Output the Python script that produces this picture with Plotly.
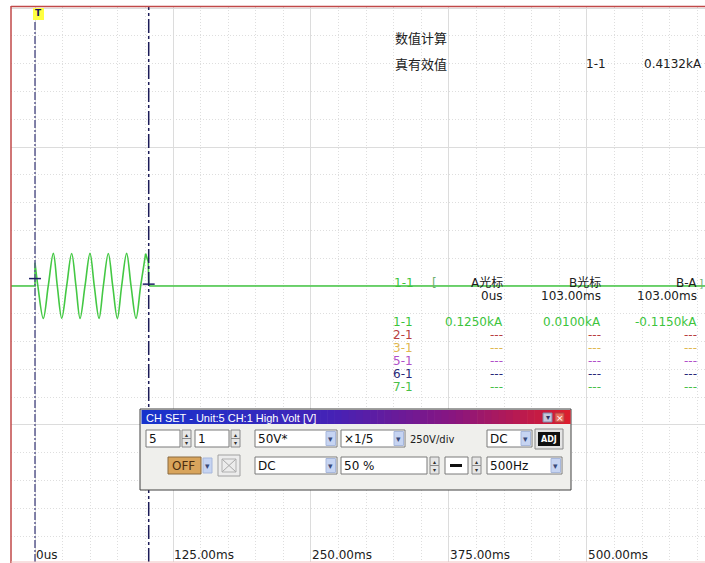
import plotly.graph_objects as go

# ---------------- data ----------------
# time axis (ms) and the labels printed along the bottom of the screen
tick_ms = [0, 125, 250, 375, 500]
tick_labels = ["0us", "125.00ms", "250.00ms", "375.00ms", "500.00ms"]

# channel 1-1: flat line before the trigger (ms, kA)
pre_t = [-21.74, 0.0, 0.0]
pre_v = [0.0, 0.0, 0.125]
# channel 1-1: 60 Hz burst after the trigger (ms, kA)
burst_t = [0.0, 2.6, 7.5, 12.0, 16.6, 20.2, 24.2, 28.7, 33.2, 37.1, 40.8, 45.3,
           49.8, 53.7, 58.0, 61.9, 66.4, 70.4, 74.6, 78.5, 83.0, 87.0, 91.5,
           95.7, 100.2]
burst_v = [0.125, 0.0, -0.175, 0.0, 0.176, 0.0, -0.174, 0.0, 0.175, 0.0, -0.175,
           0.0, 0.176, 0.0, -0.175, 0.0, 0.175, 0.0, -0.175, 0.0, 0.176, 0.0,
           -0.175, 0.0, 0.174]
# channel 1-1: end of burst and flat line afterwards (ms, kA)
tail_t = [100.2, 102.6, 103.0, 104.0, 606.9]
tail_v = [0.174, 0.13, 0.01, 0.0, 0.0]

# cursors A / B (ms) and the channel 1-1 readings at them (kA)
cursor_ms = [0.0, 103.0]
cursor_kA = [0.125, 0.0100]
rms_kA = 0.4132

# channels listed in the cursor table
channels = ["1-1", "2-1", "3-1", "5-1", "6-1", "7-1"]
channel_colors = ["#3cc43c", "#b84040", "#e0b850", "#b050c8", "#282878", "#48c048"]

# ---------------- geometry helpers ----------------
W, H = 705, 563
ML, MR, MT, MB = 11, 0, 7, 1
PW, PH = W - ML - MR, H - MT - MB
X_RANGE = [-21.74, 606.9]
Y_RANGE = [-1.4895, 1.5056]


def fx(px):
    return (px - ML) / PW


def fy(py):
    return (H - MB - py) / PH


LATIN = "DejaVu Sans, Noto Sans CJK SC"
CJK = "Noto Sans CJK SC"

shapes = []
annotations = []


def rect(x0, y0, x1, y1, fill, line=None, lw=1):
    shapes.append(dict(type="rect", xref="paper", yref="paper",
                       x0=fx(x0), x1=fx(x1), y0=fy(y1), y1=fy(y0),
                       fillcolor=fill,
                       line=dict(color=line if line else fill, width=lw if line else 0),
                       layer="above"))


def hline(x0, x1, y, color, width=1):
    shapes.append(dict(type="line", xref="paper", yref="paper",
                       x0=fx(x0), x1=fx(x1), y0=fy(y), y1=fy(y),
                       line=dict(color=color, width=width), layer="above"))


def seg(x0, y0, x1, y1, color, width=1):
    shapes.append(dict(type="line", xref="paper", yref="paper",
                       x0=fx(x0), x1=fx(x1), y0=fy(y0), y1=fy(y1),
                       line=dict(color=color, width=width), layer="above"))


def text(px, py, s, size=12, color="#202020", anchor="left", family=LATIN, bold=False):
    if bold:
        s = "<b>" + s + "</b>"
    annotations.append(dict(xref="paper", yref="paper", x=fx(px), y=fy(py), text=s,
                            showarrow=False, xanchor=anchor, yanchor="middle",
                            borderpad=0,
                            font=dict(family=family, size=size, color=color)))


# ---------------- traces ----------------
GREEN = "#44c844"
fig = go.Figure()
fig.add_trace(go.Scatter(x=pre_t, y=pre_v, mode="lines",
                         line=dict(color=GREEN, width=1.6), hoverinfo="skip"))
fig.add_trace(go.Scatter(x=burst_t, y=burst_v, mode="lines",
                         line=dict(color=GREEN, width=1.6, shape="spline", smoothing=1),
                         hoverinfo="skip"))
fig.add_trace(go.Scatter(x=tail_t, y=tail_v, mode="lines",
                         line=dict(color=GREEN, width=1.6), hoverinfo="skip"))

# ---------------- cursors ----------------
shapes.append(dict(type="line", xref="x", yref="paper", x0=cursor_ms[0], x1=cursor_ms[0],
                   y0=0, y1=fy(20), line=dict(color="#5c5c90", width=1.5, dash="8px,2px,2px,2px"),
                   layer="above"))
shapes.append(dict(type="line", xref="x", yref="paper", x0=cursor_ms[1], x1=cursor_ms[1],
                   y0=0, y1=1, line=dict(color="#1c1c58", width=1.5, dash="14px,3px,3px,3px"),
                   layer="above"))
# cursor crosshair ticks on the trace
for t, v in zip(cursor_ms, [0.04, cursor_kA[1]]):
    shapes.append(dict(type="line", xref="x", yref="y", x0=t - 5.4, x1=t + 5.4, y0=v, y1=v,
                       line=dict(color="#202068", width=1.5), layer="above"))

# trigger marker
rect(33, 8, 44, 20, "#ffff40")
text(38.5, 13.5, "T", size=9, color="#101060", anchor="center", bold=True)

# frame of the scope screen
seg(11, 6, 11, 563, "#c04848", 1.5)
seg(11, 6.5, 705, 6.5, "#c04848", 1.5)
hline(11, 705, 562, "#f0c0c0", 1)

# ---------------- bottom time labels ----------------
for t, lab in zip(tick_ms, tick_labels):
    annotations.append(dict(xref="x", yref="paper", x=t, y=fy(555), text=lab,
                            showarrow=False, xanchor="left", yanchor="middle",
                            borderpad=0, font=dict(family=LATIN, size=12, color="#202020")))

# ---------------- measurement panel ----------------
text(394, 38, "数值计算", size=13, family=CJK)
text(394, 64, "真有效值", size=13, family=CJK)
text(585, 64, "1-1", size=12)
text(703, 64, f"{rms_kA:.4f}kA", size=12, anchor="right")

# ---------------- cursor table ----------------
COLS = [504, 602, 698]


def fmt_time(ms):
    return "0us" if ms == 0 else f"{ms:.2f}ms"


text(393, 283, channels[0], size=12, color=channel_colors[0])
text(431, 283, "[", size=12, color="#70b070")
text(COLS[0], 283, "A光标", size=12, anchor="right")
text(COLS[1], 283, "B光标", size=12, anchor="right")
text(COLS[2], 283, "B-A", size=12, anchor="right")
text(704, 283, "]", size=11, color="#70b070", anchor="right")
text(COLS[0], 296, fmt_time(cursor_ms[0]), size=12, anchor="right")
text(COLS[1], 296, fmt_time(cursor_ms[1]), size=12, anchor="right")
text(COLS[2], 296, fmt_time(cursor_ms[1] - cursor_ms[0]), size=12, anchor="right")

row_y = [322, 335, 348, 361, 374, 387]
for i, (ch, col) in enumerate(zip(channels, channel_colors)):
    text(392, row_y[i], ch, size=12, color=col)
    if i == 0:
        vals = [cursor_kA[0], cursor_kA[1], cursor_kA[1] - cursor_kA[0]]
        for cx, v in zip(COLS, vals):
            text(cx, row_y[i], f"{v:.4f}kA", size=12, color=col, anchor="right")
    else:
        for cx in COLS:
            text(cx, row_y[i], "---", size=12, color=col, anchor="right")

# ---------------- CH SET dialog ----------------
rect(140, 409, 571, 490, "#efefec", "#404040", 1)
# title bar gradient
stops = [(0.0, (22, 52, 205)), (0.45, (70, 34, 182)), (0.72, (135, 22, 130)), (1.0, (222, 30, 44))]


def grad(f):
    for (a, ca), (b, cb) in zip(stops[:-1], stops[1:]):
        if a <= f <= b:
            k = (f - a) / (b - a)
            return "rgb(%d,%d,%d)" % tuple(int(ca[j] + (cb[j] - ca[j]) * k) for j in range(3))
    return "rgb(%d,%d,%d)" % stops[-1][1]


N = 60
x_start, x_end = 141.5, 570
for i in range(N):
    a = x_start + (x_end - x_start) * i / N
    b = x_start + (x_end - x_start) * (i + 1) / N
    rect(a, 410, b + 0.6, 424, grad((i + 0.5) / N))
text(145, 417.5, "CH SET - Unit:5 CH:1 High Volt [V]", size=11, color="#ffffff",
     family="Liberation Sans")
rect(543, 413, 552, 422, "#c4c8dc", "#8088a8", 1)
text(547.5, 417.5, "▾", size=8, color="#303060", anchor="center")
rect(555, 413, 564, 422, "#e86a5a", "#b04040", 1)
text(559.5, 417.5, "×", size=9, color="#ffffff", anchor="center")


def box(x0, y0, x1, y1, label=None):
    rect(x0, y0, x1, y1, "#ffffff", "#7a7a7a", 1)
    if label:
        text(x0 + 2, (y0 + y1) / 2 + 0.5, label, size=12, color="#101010")


def arrow_btn(x0, y0, x1, y1):
    rect(x0, y0, x1, y1, "#c6d4f2", "#a8b8dc", 1)
    text((x0 + x1) / 2, (y0 + y1) / 2, "▾", size=9, color="#3a4a78", anchor="center")


def spinner(x0, y0, x1, y1):
    mid = (y0 + y1) / 2
    rect(x0, y0, x1, mid, "#e6e6e6", "#8a8a8a", 1)
    rect(x0, mid, x1, y1, "#e6e6e6", "#8a8a8a", 1)
    text((x0 + x1) / 2, (y0 + mid) / 2, "▴", size=6, color="#303030", anchor="center")
    text((x0 + x1) / 2, (mid + y1) / 2, "▾", size=6, color="#303030", anchor="center")


def dropdown(x0, y0, x1, y1, label):
    box(x0, y0, x1, y1, label)
    arrow_btn(x1 - 11, y0 + 1.5, x1 - 1.5, y1 - 1.5)


# row 1
R1 = (430, 447)
box(146, R1[0], 180, R1[1], "5")
spinner(182, R1[0], 191, R1[1])
box(195, R1[0], 229, R1[1], "1")
spinner(231, R1[0], 240, R1[1])
dropdown(255, R1[0], 337, R1[1], "50V*")
dropdown(341, R1[0], 405, R1[1], "×1/5")
text(409, 439.5, "250V/div", size=10, color="#202020")
dropdown(487, R1[0], 532, R1[1], "DC")
rect(535, 429, 563, 449, "#e4e4e4", "#8a8a8a", 1)
rect(538, 432, 560, 446, "#101010")
text(549, 439, "ADJ", size=8, color="#ffffff", anchor="center", bold=True)

# row 2
R2 = (457, 474)
rect(168, R2[0], 201, R2[1], "#d8a45c", "#8a6a40", 1)
text(171, 466, "OFF", size=12, color="#4a2c10")
arrow_btn(203, R2[0] + 1, 212, R2[1] - 1)
rect(218, 455, 240, 476, "#ececec", "#a0a0a0", 1)
seg(222, 459, 236, 472, "#a8a8a8", 1)
seg(222, 472, 236, 459, "#a8a8a8", 1)
rect(222, 459, 236, 472, "rgba(0,0,0,0)", "#b0b0b0", 1)
dropdown(255, R2[0], 337, R2[1], "DC")
box(341, R2[0], 427, R2[1], "50 %")
spinner(430, R2[0], 439, R2[1])
box(445, R2[0], 468, R2[1])
hline(450, 462, 465.5, "#101010", 3)
spinner(472, R2[0], 481, R2[1])
dropdown(487, R2[0], 562, R2[1], "500Hz")

# ---------------- layout ----------------
fig.update_layout(
    width=W, height=H,
    margin=dict(l=ML, r=MR, t=MT, b=MB),
    paper_bgcolor="#ffffff", plot_bgcolor="#ffffff",
    showlegend=False,
    shapes=shapes,
    annotations=annotations,
    xaxis=dict(range=X_RANGE, showticklabels=False, ticks="", zeroline=False,
               showline=False, tick0=0, dtick=125, showgrid=True,
               gridcolor="#dcdcdc", gridwidth=1,
               minor=dict(dtick=25, tick0=0, showgrid=True, gridcolor="#dedede",
                          griddash="1px,2px", gridwidth=1)),
    yaxis=dict(range=Y_RANGE, showticklabels=False, ticks="", zeroline=False,
               showline=False, tick0=0, dtick=0.75, showgrid=True,
               gridcolor="#dcdcdc", gridwidth=1,
               minor=dict(dtick=0.15, tick0=0, showgrid=True, gridcolor="#dedede",
                          griddash="1px,2px", gridwidth=1)),
)

fig.write_html("out.html")
